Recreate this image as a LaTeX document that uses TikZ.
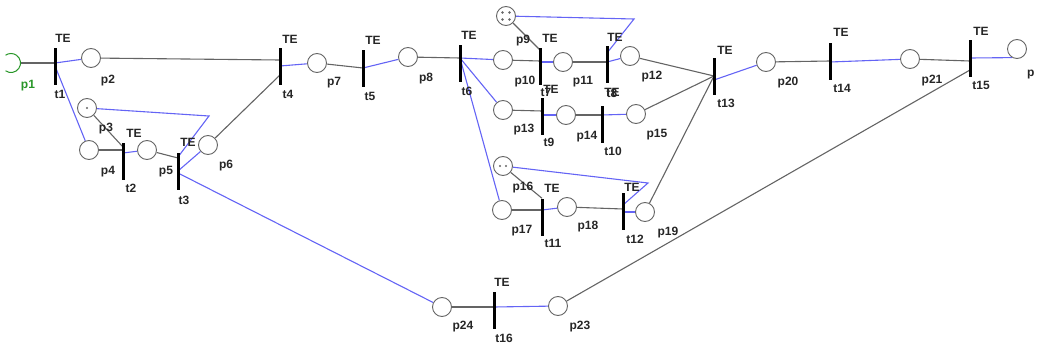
\documentclass[tikz,border=0pt]{standalone}
\usepackage{fontspec}
\setmainfont{Liberation Sans}
\usetikzlibrary{backgrounds}
\definecolor{arcin}{RGB}{100,100,100}
\definecolor{arcout}{RGB}{100,100,245}
\definecolor{startgreen}{RGB}{40,150,40}
\tikzset{
  place/.style={circle, draw=black!60, fill=white, line width=0.9pt, minimum size=19pt, inner sep=0pt},
  trans/.style={rectangle, fill=black, minimum width=3pt, minimum height=37pt, inner sep=0pt},
  lbl/.style={font=\fontsize{12}{13}\selectfont\bfseries, inner sep=0pt, text=black!85},
  inarc/.style={draw=arcin, line width=1.1pt},
  outarc/.style={draw=arcout, line width=1.1pt},
  token/.style={fill=black!60}
}
\begin{document}
\begin{tikzpicture}[x=1pt,y=-1pt]
\useasboundingbox (0,0) rectangle (1037,348);

% ---------- places ----------
\coordinate (p1) at (11,63);
\draw[startgreen, line width=1pt] ([shift={(-125:9.5pt)}]p1) arc[start angle=-125, end angle=125, radius=9.5pt];
\node[place] (p2) at (91,58) {};
\node[place] (p3) at (87,108) {};
\node[place] (p4) at (89,150) {};
\node[place] (p5) at (147,150) {};
\node[place] (p6) at (208,145) {};
\node[place] (p7) at (317,63) {};
\node[place] (p8) at (408,57) {};
\node[place] (p9) at (506,16) {};
\node[place] (p10) at (503,60) {};
\node[place] (p11) at (563,62) {};
\node[place] (p12) at (630,56) {};
\node[place] (p13) at (503,110) {};
\node[place] (p14) at (566,115) {};
\node[place] (p15) at (636,114) {};
\node[place] (p16) at (503,166) {};
\node[place] (p17) at (502,210) {};
\node[place] (p18) at (567,207) {};
\node[place] (p19) at (645,212) {};
\node[place] (p20) at (766,62) {};
\node[place] (p21) at (910,59) {};
\node[place] (p22) at (1017,49) {};
\node[place] (p23) at (558,306) {};
\node[place] (p24) at (442,307) {};

% tokens
\fill[token] (p3) circle[radius=1.1pt];
\foreach \dx in {-3.5,3.5}{\foreach \dy in {-3.5,3.5}{\fill[token] ([shift={(\dx pt,\dy pt)}]p9.center) circle[radius=1.3pt];}}
\foreach \dx in {-3,3}{\fill[token] ([xshift=\dx pt]p16.center) circle[radius=1.2pt];}

% ---------- transitions ----------
\node[trans] (t1) at (55,66) {};
\node[trans] (t2) at (123,161) {};
\node[trans] (t3) at (178,171) {};
\node[trans] (t4) at (280,66) {};
\node[trans] (t5) at (363,68) {};
\node[trans] (t6) at (460,63) {};
\node[trans] (t7) at (540,66) {};
\node[trans] (t8) at (607,64) {};
\node[trans] (t9) at (542,116) {};
\node[trans] (t10) at (602,124) {};
\node[trans] (t11) at (542,217) {};
\node[trans] (t12) at (623,211) {};
\node[trans] (t13) at (714,76) {};
\node[trans] (t14) at (830,61) {};
\node[trans] (t15) at (970,58) {};
\node[trans] (t16) at (494,310) {};

% corners of the self loops
\coordinate (c3) at (209,116);
\coordinate (c8) at (634,19);
\coordinate (c12) at (648,183);

% ---------- arcs ----------
\begin{scope}[on background layer]
\draw[inarc] ([xshift=9.5pt]p1) -- ([yshift=3pt]t1.center);
\draw[outarc] ([yshift=3pt]t1.center) -- (p2);
\draw[outarc] (t1.center) -- (p4);
\draw[inarc] (p2) -- ([yshift=6pt]t4.center);
\draw[inarc] (p3) -- ([yshift=14pt]t2.center);
\draw[inarc] (p4) -- ([yshift=11pt]t2.center);
\draw[outarc] ([yshift=8pt]t2.center) -- (p5);
\draw[inarc] (p5) -- ([yshift=13pt]t3.center);
\draw[outarc] ([yshift=14pt]t3.center) -- (c3) -- (p3);
\draw[outarc] (t3.center) -- (p6);
\draw[outarc] ([yshift=-2pt]t3.center) -- (p24);
\draw[inarc] (p6) -- ([yshift=-9pt]t4.center);
\draw[outarc] (t4.center) -- (p7);
\draw[inarc] (p7) -- (t5.center);
\draw[outarc] (t5.center) -- (p8);
\draw[inarc] (p8) -- ([yshift=5pt]t6.center);
\draw[outarc] ([yshift=5pt]t6.center) -- (p10);
\draw[outarc] ([yshift=5pt]t6.center) -- (p13);
\draw[outarc] ([yshift=5pt]t6.center) -- (p17);
\draw[inarc] (p9) -- ([yshift=16pt]t7.center);
\draw[inarc] (p10) -- ([yshift=5pt]t7.center);
\draw[outarc] ([yshift=4pt]t7.center) -- (p11);
\draw[inarc] (p11) -- ([yshift=2pt]t8.center);
\draw[outarc] ([yshift=2pt]t8.center) -- (p12);
\draw[outarc] ([yshift=11pt]t8.center) -- (c8) -- (p9);
\draw[inarc] (p13) -- ([yshift=5pt]t9.center);
\draw[outarc] ([yshift=1pt]t9.center) -- (p14);
\draw[inarc] (p14) -- ([yshift=9pt]t10.center);
\draw[outarc] ([yshift=9pt]t10.center) -- (p15);
\draw[inarc] (p12) -- (t13.center);
\draw[inarc] (p15) -- (t13.center);
\draw[inarc] (p19) -- (t13.center);
\draw[inarc] (p16) -- (t11.north);
\draw[inarc] (p17) -- ([yshift=7pt]t11.center);
\draw[outarc] ([yshift=7pt]t11.center) -- (p18);
\draw[inarc] (p18) -- ([yshift=2pt]t12.center);
\draw[outarc] ([yshift=-1pt]t12.center) -- (p19);
\draw[outarc] ([yshift=6pt]t12.center) -- (c12) -- (p16);
\draw[outarc] ([yshift=-4pt]t13.center) -- (p20);
\draw[inarc] (p20) -- (t14.center);
\draw[outarc] ([yshift=-1pt]t14.center) -- (p21);
\draw[inarc] (p21) -- ([yshift=-3pt]t15.center);
\draw[outarc] (t15.center) -- (p22.-120);
\draw[inarc] (p23) -- ([yshift=-12pt]t15.center);
\draw[inarc] (p24) -- ([yshift=3pt]t16.center);
\draw[outarc] ([yshift=3pt]t16.center) -- (p23);
\end{scope}

% ---------- labels ----------
\node[lbl, text=startgreen] (lp1) at (28,86) {p1};
\node[lbl] (lp2) at (108,81) {p2};
\node[lbl] (lp3) at (106,129) {p3};
\node[lbl] (lp4) at (108,172) {p4};
\node[lbl] (lp5) at (166,172) {p5};
\node[lbl] (lp6) at (226,166) {p6};
\node[lbl] (lp7) at (334,83) {p7};
\node[lbl] (lp8) at (426,79) {p8};
\node[lbl] (lp9) at (523,41) {p9};
\node[lbl] (lp10) at (525,82) {p10};
\node[lbl] (lp11) at (583,82) {p11};
\node[lbl] (lp12) at (652,77) {p12};
\node[lbl] (lp13) at (524,130) {p13};
\node[lbl] (lp14) at (587,137) {p14};
\node[lbl] (lp15) at (657,135) {p15};
\node[lbl] (lp16) at (523,188) {p16};
\node[lbl] (lp17) at (522,231) {p17};
\node[lbl] (lp18) at (588,227) {p18};
\node[lbl] (lp19) at (668,233) {p19};
\node[lbl] (lp20) at (788,83) {p20};
\node[lbl] (lp21) at (932,81) {p21};
\node[lbl, anchor=west] (lp22) at (1027,75) {p};
\node[lbl] (lp23) at (580,327) {p23};
\node[lbl] (lp24) at (463,327) {p24};

\node[lbl] (lt1) at (60,94) {t1};
\node[lbl] (lt2) at (131,188) {t2};
\node[lbl] (lt3) at (184,200) {t3};
\node[lbl] (lt4) at (288,94) {t4};
\node[lbl] (lt5) at (370,96) {t5};
\node[lbl] (lt6) at (467,91) {t6};
\node[lbl] (lt7) at (546,92) {t7};
\node[lbl] (lt8) at (612,93) {t8};
\node[lbl] (lt9) at (549,142) {t9};
\node[lbl] (lt10) at (613,151) {t10};
\node[lbl] (lt11) at (553,243) {t11};
\node[lbl] (lt12) at (635,239) {t12};
\node[lbl] (lt13) at (726,103) {t13};
\node[lbl] (lt14) at (842,88) {t14};
\node[lbl] (lt15) at (981,85) {t15};
\node[lbl] (lt16) at (504,338) {t16};

\node[lbl] (e1) at (63,38) {TE};
\node[lbl] (e2) at (134,133) {TE};
\node[lbl] (e3) at (188,142) {TE};
\node[lbl] (e4) at (290,39) {TE};
\node[lbl] (e5) at (373,40) {TE};
\node[lbl] (e6) at (469,35) {TE};
\node[lbl] (e7) at (550,38) {TE};
\node[lbl] (e8) at (615,37) {TE};
\node[lbl] (e9) at (551,89) {TE};
\node[lbl] (e10) at (612,92) {TE};
\node[lbl] (e11) at (552,188) {TE};
\node[lbl] (e12) at (632,187) {TE};
\node[lbl] (e13) at (725,50) {TE};
\node[lbl] (e14) at (841,32) {TE};
\node[lbl] (e15) at (981,31) {TE};
\node[lbl] (e16) at (502,282) {TE};
\end{tikzpicture}
\end{document}
